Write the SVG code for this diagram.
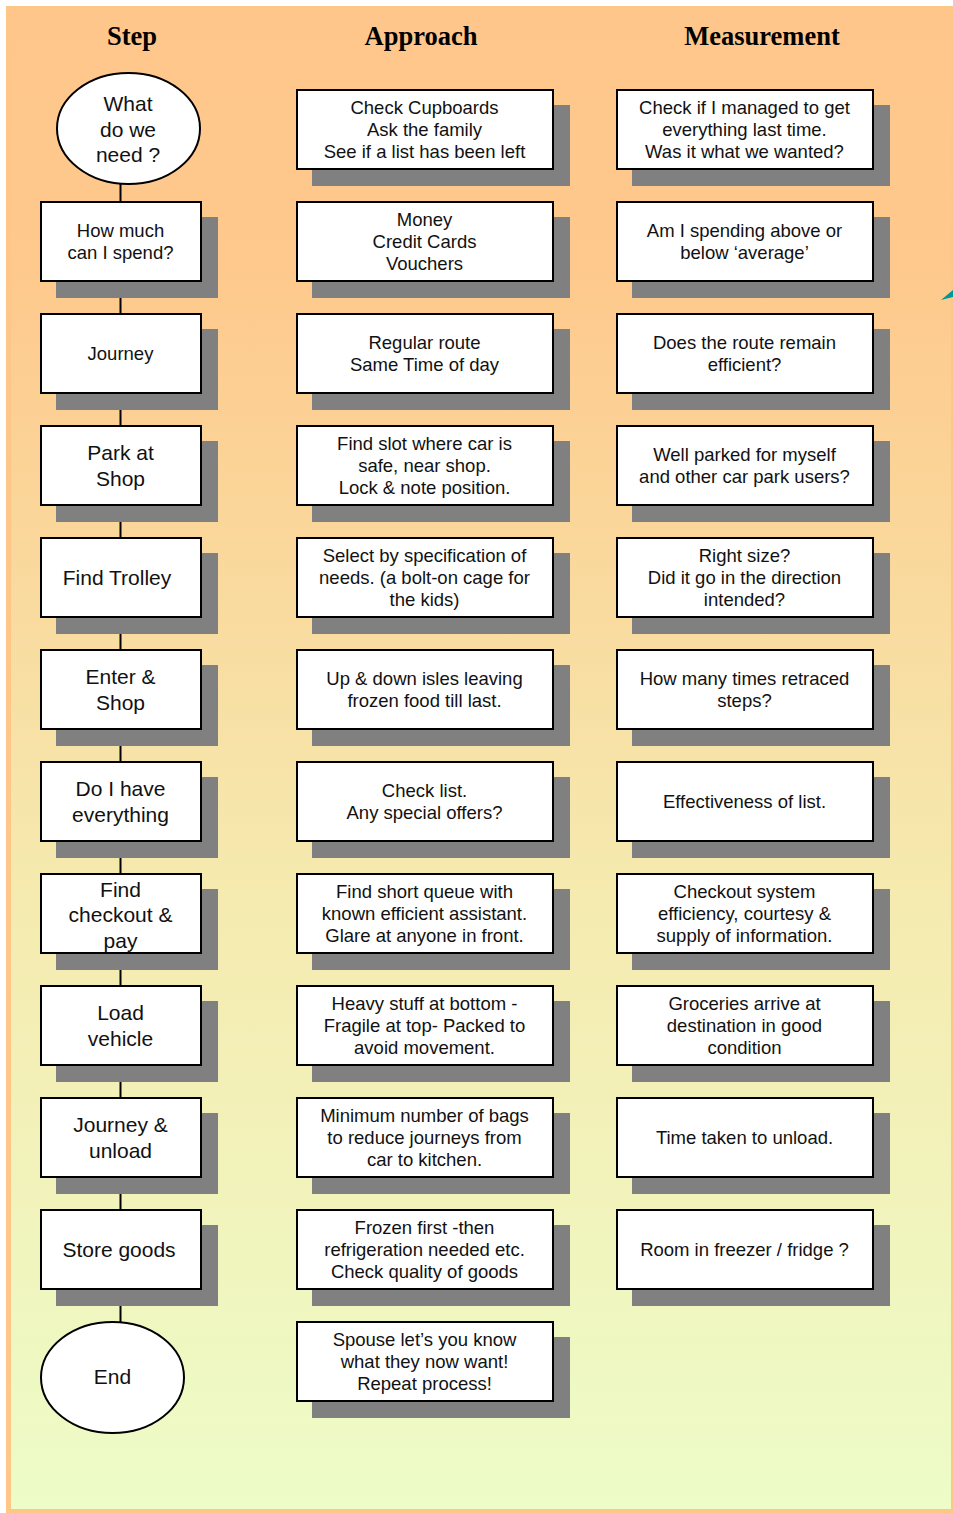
<svg xmlns="http://www.w3.org/2000/svg" width="953" height="1513" viewBox="0 0 953 1513">
<defs>
<linearGradient id="bg" x1="0" y1="0" x2="0" y2="1">
<stop offset="0" stop-color="#FFC68B"/>
<stop offset="0.18" stop-color="#FEC98D"/>
<stop offset="0.6" stop-color="#F5EBB0"/>
<stop offset="1" stop-color="#EDFCC8"/>
</linearGradient>
</defs>
<style>
.sh{fill:#808080}
.bx{fill:#fff;stroke:#000;stroke-width:2}
.t{font-family:"Liberation Sans",Arial,sans-serif;font-size:18.5px;fill:#111;text-anchor:middle}
.tl{font-family:"Liberation Sans",Arial,sans-serif;font-size:21px;fill:#111;text-anchor:middle}
.h{font-family:"Liberation Serif","Times New Roman",serif;font-size:26.5px;font-weight:bold;fill:#000;text-anchor:middle}
.cn{stroke:#000;stroke-width:2;fill:none}
</style>
<rect x="0" y="0" width="953" height="1513" fill="#fff"/>
<rect x="8.5" y="8.5" width="945" height="1503" fill="url(#bg)" stroke="#FFC68A" stroke-width="5"/>
<polygon points="941,300 953,290 953,297" fill="#009999"/>
<text class="h" x="132" y="45">Step</text>
<text class="h" x="421" y="45">Approach</text>
<text class="h" x="762" y="45">Measurement</text>
<g id="connectors">
<path class="cn" d="M120.5 184 V201 M120.5 282 V313 M120.5 394 V425 M120.5 506 V537 M120.5 618 V649 M120.5 730 V761 M120.5 842 V873 M120.5 954 V985 M120.5 1066 V1097 M120.5 1178 V1209 M120.5 1290 V1322"/>
</g>
<g id="step1"><ellipse class="bx" cx="128.5" cy="128.5" rx="71.5" ry="55.5"/><text class="tl" x="128" y="111">What</text><text class="tl" x="128" y="136.5">do we</text><text class="tl" x="128" y="162">need ?</text></g>
<g id="step2"><rect class="sh" x="56" y="217" width="162" height="81"/><rect class="bx" x="41" y="202" width="160" height="79"/><text class="t" x="120.5" y="237">How much</text><text class="t" x="120.5" y="259">can I spend?</text></g>
<g id="step3"><rect class="sh" x="56" y="329" width="162" height="81"/><rect class="bx" x="41" y="314" width="160" height="79"/><text class="t" x="120.5" y="360">Journey</text></g>
<g id="step4"><rect class="sh" x="56" y="441" width="162" height="81"/><rect class="bx" x="41" y="426" width="160" height="79"/><text class="tl" x="120.5" y="460">Park at</text><text class="tl" x="120.5" y="486">Shop</text></g>
<g id="step5"><rect class="sh" x="56" y="553" width="162" height="81"/><rect class="bx" x="41" y="538" width="160" height="79"/><text class="tl" x="117" y="585">Find Trolley</text></g>
<g id="step6"><rect class="sh" x="56" y="665" width="162" height="81"/><rect class="bx" x="41" y="650" width="160" height="79"/><text class="tl" x="120.5" y="684">Enter &amp;</text><text class="tl" x="120.5" y="710">Shop</text></g>
<g id="step7"><rect class="sh" x="56" y="777" width="162" height="81"/><rect class="bx" x="41" y="762" width="160" height="79"/><text class="tl" x="120.5" y="796">Do I have</text><text class="tl" x="120.5" y="822">everything</text></g>
<g id="step8"><rect class="sh" x="56" y="889" width="162" height="81"/><rect class="bx" x="41" y="874" width="160" height="79"/><text class="tl" x="120.5" y="896.5">Find</text><text class="tl" x="120.5" y="922">checkout &amp;</text><text class="tl" x="120.5" y="947.5">pay</text></g>
<g id="step9"><rect class="sh" x="56" y="1001" width="162" height="81"/><rect class="bx" x="41" y="986" width="160" height="79"/><text class="tl" x="120.5" y="1020">Load</text><text class="tl" x="120.5" y="1046">vehicle</text></g>
<g id="step10"><rect class="sh" x="56" y="1113" width="162" height="81"/><rect class="bx" x="41" y="1098" width="160" height="79"/><text class="tl" x="120.5" y="1132">Journey &amp;</text><text class="tl" x="120.5" y="1158">unload</text></g>
<g id="step11"><rect class="sh" x="56" y="1225" width="162" height="81"/><rect class="bx" x="41" y="1210" width="160" height="79"/><text class="tl" x="119" y="1257">Store goods</text></g>
<g id="step12"><ellipse class="bx" cx="112.5" cy="1377.5" rx="71.5" ry="55.5"/><text class="tl" x="112.5" y="1384">End</text></g>

<g id="approach1"><rect class="sh" x="312" y="105" width="258" height="81"/><rect class="bx" x="297" y="90" width="256" height="79"/><text class="t" x="424.5" y="114">Check Cupboards</text><text class="t" x="424.5" y="136">Ask the family</text><text class="t" x="424.5" y="158">See if a list has been left</text></g>
<g id="approach2"><rect class="sh" x="312" y="217" width="258" height="81"/><rect class="bx" x="297" y="202" width="256" height="79"/><text class="t" x="424.5" y="226">Money</text><text class="t" x="424.5" y="248">Credit Cards</text><text class="t" x="424.5" y="270">Vouchers</text></g>
<g id="approach3"><rect class="sh" x="312" y="329" width="258" height="81"/><rect class="bx" x="297" y="314" width="256" height="79"/><text class="t" x="424.5" y="349">Regular route</text><text class="t" x="424.5" y="371">Same Time of day</text></g>
<g id="approach4"><rect class="sh" x="312" y="441" width="258" height="81"/><rect class="bx" x="297" y="426" width="256" height="79"/><text class="t" x="424.5" y="450">Find slot where car is</text><text class="t" x="424.5" y="472">safe, near shop.</text><text class="t" x="424.5" y="494">Lock &amp; note position.</text></g>
<g id="approach5"><rect class="sh" x="312" y="553" width="258" height="81"/><rect class="bx" x="297" y="538" width="256" height="79"/><text class="t" x="424.5" y="562">Select by specification of</text><text class="t" x="424.5" y="584">needs. (a bolt-on cage for</text><text class="t" x="424.5" y="606">the kids)</text></g>
<g id="approach6"><rect class="sh" x="312" y="665" width="258" height="81"/><rect class="bx" x="297" y="650" width="256" height="79"/><text class="t" x="424.5" y="685">Up &amp; down isles leaving</text><text class="t" x="424.5" y="707">frozen food till last.</text></g>
<g id="approach7"><rect class="sh" x="312" y="777" width="258" height="81"/><rect class="bx" x="297" y="762" width="256" height="79"/><text class="t" x="424.5" y="797">Check list.</text><text class="t" x="424.5" y="819">Any special offers?</text></g>
<g id="approach8"><rect class="sh" x="312" y="889" width="258" height="81"/><rect class="bx" x="297" y="874" width="256" height="79"/><text class="t" x="424.5" y="898">Find short queue with</text><text class="t" x="424.5" y="920">known efficient assistant.</text><text class="t" x="424.5" y="942">Glare at anyone in front.</text></g>
<g id="approach9"><rect class="sh" x="312" y="1001" width="258" height="81"/><rect class="bx" x="297" y="986" width="256" height="79"/><text class="t" x="424.5" y="1010">Heavy stuff at bottom -</text><text class="t" x="424.5" y="1032">Fragile at top- Packed to</text><text class="t" x="424.5" y="1054">avoid movement.</text></g>
<g id="approach10"><rect class="sh" x="312" y="1113" width="258" height="81"/><rect class="bx" x="297" y="1098" width="256" height="79"/><text class="t" x="424.5" y="1122">Minimum number of bags</text><text class="t" x="424.5" y="1144">to reduce journeys from</text><text class="t" x="424.5" y="1166">car to kitchen.</text></g>
<g id="approach11"><rect class="sh" x="312" y="1225" width="258" height="81"/><rect class="bx" x="297" y="1210" width="256" height="79"/><text class="t" x="424.5" y="1234">Frozen first -then</text><text class="t" x="424.5" y="1256">refrigeration needed etc.</text><text class="t" x="424.5" y="1278">Check quality of goods</text></g>
<g id="approach12"><rect class="sh" x="312" y="1337" width="258" height="81"/><rect class="bx" x="297" y="1322" width="256" height="79"/><text class="t" x="424.5" y="1346">Spouse let’s you know</text><text class="t" x="424.5" y="1368">what they now want!</text><text class="t" x="424.5" y="1390">Repeat process!</text></g>

<g id="measure1"><rect class="sh" x="632" y="105" width="258" height="81"/><rect class="bx" x="617" y="90" width="256" height="79"/><text class="t" x="744.5" y="114">Check if I managed to get</text><text class="t" x="744.5" y="136">everything last time.</text><text class="t" x="744.5" y="158">Was it what we wanted?</text></g>
<g id="measure2"><rect class="sh" x="632" y="217" width="258" height="81"/><rect class="bx" x="617" y="202" width="256" height="79"/><text class="t" x="744.5" y="237">Am I spending above or</text><text class="t" x="744.5" y="259">below ‘average’</text></g>
<g id="measure3"><rect class="sh" x="632" y="329" width="258" height="81"/><rect class="bx" x="617" y="314" width="256" height="79"/><text class="t" x="744.5" y="349">Does the route remain</text><text class="t" x="744.5" y="371">efficient?</text></g>
<g id="measure4"><rect class="sh" x="632" y="441" width="258" height="81"/><rect class="bx" x="617" y="426" width="256" height="79"/><text class="t" x="744.5" y="461">Well parked for myself</text><text class="t" x="744.5" y="483">and other car park users?</text></g>
<g id="measure5"><rect class="sh" x="632" y="553" width="258" height="81"/><rect class="bx" x="617" y="538" width="256" height="79"/><text class="t" x="744.5" y="562">Right size?</text><text class="t" x="744.5" y="584">Did it go in the direction</text><text class="t" x="744.5" y="606">intended?</text></g>
<g id="measure6"><rect class="sh" x="632" y="665" width="258" height="81"/><rect class="bx" x="617" y="650" width="256" height="79"/><text class="t" x="744.5" y="685">How many times retraced</text><text class="t" x="744.5" y="707">steps?</text></g>
<g id="measure7"><rect class="sh" x="632" y="777" width="258" height="81"/><rect class="bx" x="617" y="762" width="256" height="79"/><text class="t" x="744.5" y="808">Effectiveness of list.</text></g>
<g id="measure8"><rect class="sh" x="632" y="889" width="258" height="81"/><rect class="bx" x="617" y="874" width="256" height="79"/><text class="t" x="744.5" y="898">Checkout system</text><text class="t" x="744.5" y="920">efficiency, courtesy &amp;</text><text class="t" x="744.5" y="942">supply of information.</text></g>
<g id="measure9"><rect class="sh" x="632" y="1001" width="258" height="81"/><rect class="bx" x="617" y="986" width="256" height="79"/><text class="t" x="744.5" y="1010">Groceries arrive at</text><text class="t" x="744.5" y="1032">destination in good</text><text class="t" x="744.5" y="1054">condition</text></g>
<g id="measure10"><rect class="sh" x="632" y="1113" width="258" height="81"/><rect class="bx" x="617" y="1098" width="256" height="79"/><text class="t" x="744.5" y="1144">Time taken to unload.</text></g>
<g id="measure11"><rect class="sh" x="632" y="1225" width="258" height="81"/><rect class="bx" x="617" y="1210" width="256" height="79"/><text class="t" x="744.5" y="1256">Room in freezer / fridge ?</text></g>
</svg>
